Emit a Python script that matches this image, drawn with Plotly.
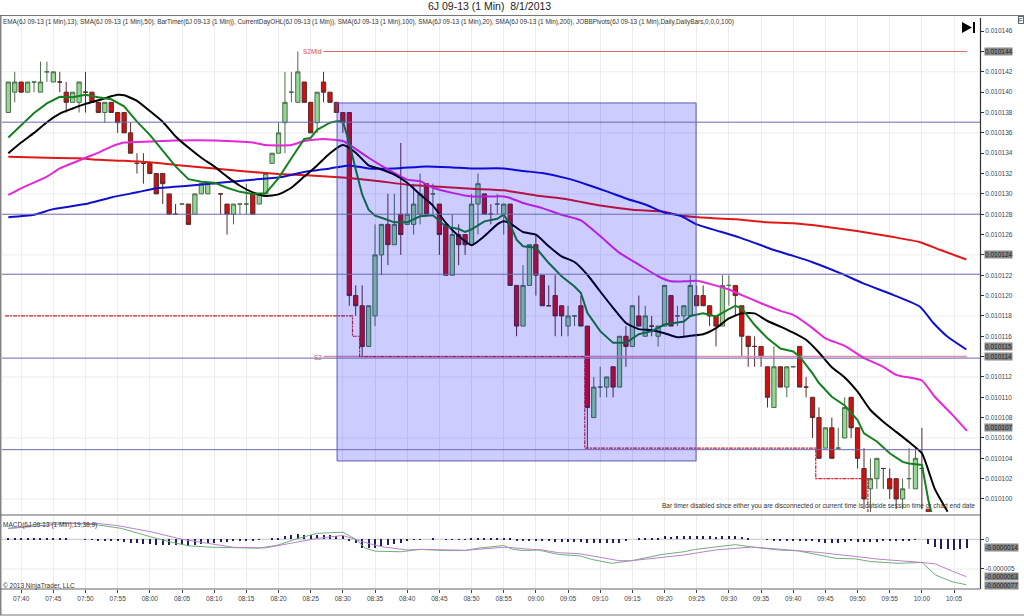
import plotly.graph_objects as go

W, H = 1024, 616

# price is given in ticks: price = 0.010000 + tick * 0.000001
opens  = [138,140,141,140,141,140,142,141,141,140,139,139,140,140,139,138,139,138,138,136,133,133,133,132,132,130,128,129,129,128,130,130,131,130,129,128,129,129,130,129,130,133,134,137,140,139,141,139,137,141,140,139,138,138,120,119,115,118,124,127,125,128,127,127,128,131,130,129,127,122,126,126,125,129,130,128,129,128,129,121,117,121,125,122,119,120,119,117,118,119,117,108,111,111,113,111,116,115,118,116,117,116,117,120,118,118,118,120,120,119,118,117,121,121,119,116,115,115,113,109,113,111,113,115,111,110,108,105,107,105,106,110,107,103,101,102,103,102,102,100,102,101,103,99]
highs  = [141,142,141,141,141,143,143,142,142,141,140,141,142,140,139,139,139,138,138,137,134,134,133,132,132,130,129,129,129,130,131,131,131,130,129,129,129,131,130,130,132,134,137,142,142,144,141,139,140,142,140,139,138,138,121,121,119,127,127,130,130,135,131,131,132,131,131,129,127,128,127,126,130,132,130,129,130,129,129,121,123,125,126,122,121,122,119,119,118,120,117,112,113,112,113,116,117,119,120,119,118,117,121,120,119,119,122,121,121,119,118,122,122,121,119,116,116,115,113,115,113,113,113,115,112,110,109,107,108,107,110,110,107,105,104,104,103,103,102,102,105,105,107,99]
lows   = [138,139,140,140,140,140,141,141,140,138,139,138,138,139,138,137,138,136,136,134,132,131,132,130,129,128,128,129,127,128,130,130,131,128,126,127,128,128,128,129,130,133,134,134,139,139,139,136,136,139,139,138,136,119,118,114,115,117,122,123,125,124,127,126,127,128,128,124,122,122,123,124,125,126,128,127,128,126,121,116,117,121,120,119,119,116,116,116,117,117,105,108,110,110,110,111,113,115,117,116,116,115,117,117,117,116,118,119,119,117,115,117,119,118,114,113,113,113,109,109,111,110,113,111,110,106,104,105,104,105,106,106,103,99,98,101,101,100,99,99,101,101,99,98]
closes = [141,141,140,141,141,141,142,142,141,139,140,141,140,139,138,139,138,137,136,134,133,133,132,130,131,128,128,129,127,130,131,131,131,130,128,129,129,129,128,130,132,134,136,139,140,142,139,136,140,140,139,138,137,120,119,115,119,124,127,125,127,126,128,129,130,128,130,126,122,126,125,125,129,131,128,128,129,129,121,117,121,125,122,119,119,118,118,118,118,117,109,111,111,112,111,116,115,119,117,118,117,117,121,117,118,119,121,119,119,118,117,121,121,120,116,115,115,114,110,113,111,113,113,111,111,108,104,107,104,105,109,107,104,100,102,104,103,101,100,101,102,104,103,98]

black_x = [0,2,4,6,8,10,12,14,16,17,18,20,22,24,26,28,30,32,34,36,38,40,42,44,46,48,50,52,54,56,58,60,62,64,66,68,70,72,74,76,77,78,80,82,84,86,88,90,92,94,96,98,100,102,104,106,108,110,112,114,116,118,120,122,124,126,128,130,132,134,136,138,140,142,144,146]
black_y = [134.0,135.05,136.0,137.05,137.9,138.4,138.85,139.2,139.6,139.75,139.7,139.15,138.15,137.1,135.65,134.55,133.55,132.7,131.7,130.8,130.15,129.8,129.95,130.6,131.7,132.8,134,134.8,134.05,132.8,132.4,131.9,131.1,129.95,128.85,127.15,125.85,124.95,125.85,127,127.3,127.1,126.25,126,124.85,123.85,123.3,122.05,120.4,118.8,117.3,116.7,116.6,116.3,115.9,116.05,116.2,116.8,117.75,118.25,118.25,117.5,116.95,116.35,115.65,114.4,112.95,111.95,110.55,108.75,107.6,106.6,105.6,104.5,101,98.75]

green_x = [0,2,4,6,8,10,12,14,16,18,20,22,24,26,28,30,32,34,36,38,40,42,44,46,47,48,50,51,52,53,54,55,56,57,58,60,62,64,66,68,70,71,72,74,76,77,78,79,80,82,84,86,88,89,90,92,94,96,98,100,102,104,105,106,108,110,112,113,114,116,118,120,122,123,125,126,128,130,132,133,135,137,139,140,142,143,143.5]
green_y = [135.55,136.8,137.95,138.9,139.55,139.5,139.75,139.5,139.3,138.6,137.1,135.8,134.3,132.7,131.45,131.2,131.1,130.6,130.2,130,130.05,131.55,133.5,135.4,135.5,136.3,137,137.15,137.15,135,132.4,129.95,128.45,127.85,127.65,127.2,127.2,127.8,127.9,126.8,126.55,126.25,126.5,127.3,127.55,127.95,127,125.5,124.85,124.7,123.2,121.9,120.9,120.25,118.3,116.5,115.35,115.35,116.2,116.5,117.15,117.4,117.45,118,118.25,117.95,118.6,119,118.75,117.1,115.8,114.8,114.5,114,112.35,111.4,110.05,109.2,107.75,106.45,105.65,104.5,103.65,103.5,103.35,99.9,98.6]

magenta_x = [0,2,6,8,12,14,16,18,22,26,32,38,40,44,46,49,52,53,56,59,62,64,66,69,72,75,77,78,80,83,86,89,92,95,98,101,103,105,107,109,112,114,117,120,122,125,127,130,133,136,138,139,142,144,147,149]
magenta_y = [129.9,130.55,131.7,132.5,133.55,134.05,134.65,135.05,135.15,135.25,135.25,135.05,134.8,134.8,135.2,135.4,135.2,134.85,133.55,132.4,131.4,131.25,130.6,130.1,129.75,129.75,129.75,129.6,129.1,128.6,127.95,127.4,125.85,124.2,123.05,121.9,121.4,121.4,121.45,121.15,120.6,120.05,119.25,118.5,118.1,116.8,115.8,115.05,113.85,113,112.2,112.05,111.65,110.05,108.1,106.7]

blue_x = [0,4,7,12,16,20,23,28,32,38,42,46,50,53,56,60,65,69,72,77,80,83,87,90,93,96,99,102,104.4,107,110.6,113.7,116.8,118.9,122,125.1,129.3,132.9,137.6,141.7,143.8,145.9,148.9]
blue_y = [127.7,127.95,128.5,129,129.65,130.15,130.55,130.8,131.05,131.4,131.6,132.15,132.5,132.8,132.5,132.5,132.7,132.6,132.5,132.5,132.25,132.05,131.5,130.9,130.25,129.55,128.95,128.15,127.87,127,126.3,125.7,125,124.5,123.9,123.25,122.2,121.2,120.05,118.9,117.3,116,114.7]

red_x = [0,6,11,14,18,22,26,32,37,42,47,52,57,62,67,72,77,82,87,92,97,102,104.4,109.6,113.2,117.9,122,126.7,131.9,137.6,141.7,144.8,148.9]
red_y = [133.65,133.55,133.5,133.35,133.25,133.1,132.85,132.5,132.2,131.95,131.8,131.6,131.3,130.9,130.7,130.5,130.35,129.85,129.45,128.85,128.45,128.25,127.87,127.6,127.5,127.2,127.1,126.8,126.35,125.75,125.25,124.5,123.55]

# CurrentDayOHL low (stepped, dashed)
ohl_x = [-0.5,53.5,53.5,54.6,54.6,89.6,89.6,125.5,125.5,133.6,133.6]
ohl_y = [118,118,116,116,114,114,105,105,102,102,98]
pivot_x = [49,149]
s2mid_y = [144,144]
s2_y = [114,114]

# Horizontal levels (in ticks)
level_lines = [137.05,128,122.1,113.85,104.85]
grid_levels = [142,136,130,124,118,112,106,100]
box_x = [51.1,106.9]
box_y = [103.74,138.94]

# MACD panel, in millionths
macd_x = [0,2,5,9,14,17.5,22,25,28,32,39,42,45,48,52,54,55.5,57,61,64,68,71,73,77,78.3,79.9,82.4,85.5,88.9,90.7,93.8,96.9,101.6,105,106.8,109.9,113,115.6,119.7,122.8,125.9,128.6,131.7,134,138.4,142,144.1,146.7,148.9]
macd_y = [1.85,2.0,2.7,2.8,2.4,1.85,.45,-.4,-1.1,-1.35,-1.5,-.95,.15,1.0,1.2,0,-1.5,-2.0,-2.1,-1.7,-1.9,-1.9,-1.5,-1.05,-1.65,-1.9,-1.8,-2.55,-2.8,-3.4,-4.05,-3.6,-2.55,-2.1,-1.7,-1.35,-.9,-1.3,-1.8,-1.95,-2.65,-3.2,-3.3,-3.75,-4.05,-3.9,-6,-7.15,-7.65]
signal_x = [0,4,9,14,17,22,27,30,35,40,43,48,52,55,58,62,64,68,71,77,78.3,80,83,85.5,88.9,91.8,94.9,96.9,101.6,105,109.9,113,115.6,119.7,122.8,125.9,131.7,135.3,142,144.1,146.7,148.9]
signal_y = [1.85,2.15,2.7,2.65,2.3,1.3,0,-.55,-1.35,-1.45,-.85,.15,.65,-.4,-1.25,-1.8,-1.7,-1.8,-1.85,-1.35,-1.4,-1.6,-1.8,-2.25,-2.45,-3,-3.6,-3.6,-3.1,-2.65,-1.8,-1.5,-1.3,-1.65,-1.9,-2.2,-2.9,-3.35,-3.9,-4.15,-5.35,-6.3]
hist = [.25,.25,.3,.3,.3,.3,.3,.3,.2,.05,0,0,-.03,
        -.1,-.15,-.2,-.25,-.35,-.45,-.6,-.7,-.8,-.85,-.9,-.9,-.95,-1,-1,-1.1,-.9,-.8,-.6,-.55,-.5,-.45,-.35,-.3,-.2,-.15,-.1,0,.1,.3,.55,.75,.95,.8,.75,.7,.7,.7,.6,.55,-.2,-.7,-1.4,-1.4,-1.4,-1.1,-.95,-.75,-.55,-.3,-.1,-.05,0,.05,0,-.1,-.1,-.1,-.1,.1,.3,.2,.3,.3,.3,.1,
        -.25,-.25,-.25,-.25,-.3,-.3,-.4,-.4,-.45,-.45,-.45,-.65,-.7,-.7,-.7,-.65,-.55,-.25,0,.05,.15,.2,.25,.5,.45,.5,.5,.6,.6,.5,.5,.45,.5,.5,.5,.35,.15,0,0,-.1,-.15,-.15,-.2,-.15,-.15,-.2,-.25,-.4,-.6,-.65,-.6,-.45,-.35,-.4,-.5,-.5,-.4,-.35,-.3,-.3,-.25,-.2,-.05,0,-.8,-1.3,-1.6,-1.6,-1.8,-1.6,-1.4]

time_ticks = [2+5*k for k in range(30)]
time_labels = ["07:40","07:45","07:50","07:55","08:00","08:05","08:10","08:15","08:20","08:25","08:30","08:35","08:40","08:45","08:50","08:55","09:00","09:05","09:10","09:15","09:20","09:25","09:30","09:35","09:40","09:45","09:50","09:55","10:00","10:05"]
price_ticks = list(range(100,148,2))
price_tags = [144,124,115,114,107]
macd_tags = [-1.4,-6.3,-7.7]

indicators = "EMA(6J 09-13 (1 Min),13), SMA(6J 09-13 (1 Min),50), BarTimer(6J 09-13 (1 Min)), CurrentDayOHL(6J 09-13 (1 Min)), SMA(6J 09-13 (1 Min),100), SMA(6J 09-13 (1 Min),20), SMA(6J 09-13 (1 Min),200), JOBBPivots(6J 09-13 (1 Min),Daily,DailyBars,0,0,0,100)"
FONT = "Liberation Sans"
SMALL = 6.5

def P(t):
    if isinstance(t, (list, tuple)):
        return [0.01 + v*1e-6 for v in t]
    return 0.01 + t*1e-6
def M(t):
    return [v*1e-6 for v in t]
px = lambda v: v/W
py = lambda v: 1 - v/H

fig = go.Figure()
bars = list(range(len(opens)))
fig.add_trace(go.Candlestick(x=bars, open=P(opens), high=P(highs), low=P(lows), close=P(closes),
    increasing=dict(fillcolor="#93d893", line=dict(color="#4c6c4c", width=1)),
    decreasing=dict(fillcolor="#d01010", line=dict(color="#5a2a2a", width=1)),
    whiskerwidth=0, showlegend=False, xaxis="x", yaxis="y"))
fig.add_trace(go.Scatter(x=pivot_x, y=P(s2mid_y), mode="lines", line=dict(color="#d86a6a", width=1), showlegend=False))
fig.add_trace(go.Scatter(x=pivot_x, y=P(s2_y), mode="lines", line=dict(color="#e58ab0", width=1.5), showlegend=False))
fig.add_trace(go.Scatter(x=ohl_x, y=P(ohl_y), mode="lines", line=dict(color="#d02030", width=1.2, dash="4px,1px,2px,1px"), showlegend=False))
for xs, ys, c, w, sm in [(red_x, red_y, "#e01818", 2, True), (blue_x, blue_y, "#1010cc", 2, True),
                     (magenta_x, magenta_y, "#e428d8", 2, True), (black_x, black_y, "#000000", 2, True),
                     (green_x, green_y, "#15801f", 2, False)]:
    line = dict(color=c, width=w)
    if sm:
        line.update(shape="spline", smoothing=0.5)
    fig.add_trace(go.Scatter(x=xs, y=P(ys), mode="lines", line=line, showlegend=False))

fig.add_trace(go.Bar(x=list(range(len(hist))), y=M(hist), width=0.17, marker=dict(color="#20205e", line=dict(width=0)), showlegend=False, xaxis="x2", yaxis="y2"))
fig.add_trace(go.Scatter(x=macd_x, y=M(macd_y), mode="lines", line=dict(color="#6fae76", width=1), showlegend=False, xaxis="x2", yaxis="y2"))
fig.add_trace(go.Scatter(x=signal_x, y=M(signal_y), mode="lines", line=dict(color="#b882cc", width=1), showlegend=False, xaxis="x2", yaxis="y2"))

# price tag arrows
fig.add_trace(go.Scatter(x=[151.45]*len(price_tags), y=P(price_tags), mode="markers", cliponaxis=False,
    marker=dict(symbol="triangle-left", size=7, color="#777777"), showlegend=False))
fig.add_trace(go.Scatter(x=[151.45]*len(macd_tags), y=M(macd_tags), mode="markers", cliponaxis=False,
    marker=dict(symbol="triangle-left", size=7, color="#777777"), showlegend=False, xaxis="x2", yaxis="y2"))

shapes = []
for g in grid_levels:
    shapes.append(dict(type="line", xref="x domain", yref="y", x0=0, x1=1, y0=P(g), y1=P(g), line=dict(color="#ececec", width=1), layer="below"))
shapes.append(dict(type="rect", xref="x", yref="y", x0=box_x[0], x1=box_x[1], y0=P(box_y[0]), y1=P(box_y[1]),
    fillcolor="rgba(0,0,255,0.2)", line=dict(color="#5a5ab4", width=1), layer="above"))
for l in level_lines:
    shapes.append(dict(type="line", xref="x domain", yref="y", x0=0, x1=1, y0=P(l), y1=P(l), line=dict(color="#6a6ab0", width=1), layer="above"))
shapes.append(dict(type="line", xref="x2 domain", yref="y2", x0=0, x1=1, y0=0, y1=0, line=dict(color="#c4c4c8", width=1), layer="below"))
shapes.append(dict(type="line", xref="x2 domain", yref="y2", x0=0, x1=1, y0=-5e-6, y1=-5e-6, line=dict(color="#ececec", width=1), layer="below"))
frame = [(0,15.5,1024,15.5,"#777777"),(0.8,15,0.8,615,"#666666"),(0,615,1024,615,"#777777"),
         (0,515,980,515,"#666666"),(0,589,980,589,"#666666"),(980.5,18,980.5,589,"#333333")]
for x0,y0,x1,y1,c in frame:
    shapes.append(dict(type="line", xref="paper", yref="paper", x0=px(x0), x1=px(x1), y0=py(y0), y1=py(y1), line=dict(color=c, width=1.2), layer="above"))
# skip-to-end button
shapes.append(dict(type="path", xref="paper", yref="paper", fillcolor="black", line=dict(width=0), layer="above",
    path=f"M {px(962)} {py(22)} L {px(972)} {py(27.5)} L {px(962)} {py(33)} Z"))
shapes.append(dict(type="rect", xref="paper", yref="paper", fillcolor="black", line=dict(width=0), layer="above",
    x0=px(973), x1=px(975), y0=py(22), y1=py(33)))

def note(x, y, text, size=SMALL, anchor="left", color="#333333", **kw):
    return dict(xref="paper", yref="paper", x=px(x), y=py(y), text=text, showarrow=False, xanchor=anchor, yanchor="middle",
                font=dict(family=FONT, size=size, color=color), borderpad=0, **kw)

annotations = [
    note(489, 6, "6J 09-13 (1 Min)  8/1/2013", size=10.5, anchor="center", color="#222222"),
    note(2, 22.5, indicators, size=6.4),
    note(323, 52, "S2Mid", anchor="right", color="#d85050"),
    note(323, 357, "S2", anchor="right", color="#b06080"),
    note(976, 506, "Bar timer disabled since either you are disconnected or current time is outside session time or chart end date", anchor="right"),
    note(2, 525, "MACD(6J 09-13 (1 Min),19,38,9)"),
    note(2, 585.5, "© 2013 NinjaTrader, LLC"),
    note(1020.5, 20.5, "F", size=6, anchor="center", bordercolor="#666666", borderwidth=1),
]
for t in price_tags:
    annotations.append(dict(xref="paper", yref="y", x=px(984), y=P(t), text=f"{P(t):.6f}", showarrow=False, xanchor="left", yanchor="middle",
        bgcolor="#8a8a8a", font=dict(family=FONT, size=SMALL, color="#222222"), borderpad=0))
for t in macd_tags:
    annotations.append(dict(xref="paper", yref="y2", x=px(984), y=t*1e-6, text=f"{t*1e-6:.7f}", showarrow=False, xanchor="left", yanchor="middle",
        bgcolor="#8a8a8a", font=dict(family=FONT, size=SMALL, color="#222222"), borderpad=0))

xrange = [-0.98, 151.03]
tickfont = dict(family=FONT, size=SMALL, color="#444444")
fig.update_layout(
    width=W, height=H, autosize=False, margin=dict(l=0,r=0,t=0,b=0), paper_bgcolor="white", plot_bgcolor="white",
    boxgap=0.05, showlegend=False, bargap=0, shapes=shapes, annotations=annotations,
    xaxis=dict(domain=[px(2),px(980)], range=xrange, showticklabels=False, tickvals=time_ticks, showgrid=True, gridcolor="#ececec", gridwidth=1,
               rangeslider=dict(visible=False), zeroline=False, showline=False, ticks=""),
    yaxis=dict(domain=[py(512),py(16)], range=[P(98.72),P(147.49)], side="right", anchor="x", tickvals=P(price_ticks), ticktext=[f"{P(v):.6f}" for v in price_ticks],
               ticks="outside", ticklen=3, tickcolor="#333333", showgrid=False, zeroline=False, showline=False, tickfont=tickfont, automargin=False),
    xaxis2=dict(domain=[px(2),px(980)], range=xrange, anchor="y2", tickvals=time_ticks, ticktext=time_labels, showgrid=True, gridcolor="#ececec", gridwidth=1,
                zeroline=False, showline=False, ticks="outside", ticklen=3, tickcolor="#444444", tickfont=tickfont, automargin=False),
    yaxis2=dict(domain=[py(589),py(515)], range=[4.09e-6,-8.37e-6][::-1], side="right", anchor="x2", tickvals=[0,-5e-6], ticktext=["0","-0.000005"],
                ticks="outside", ticklen=3, tickcolor="#333333", showgrid=False, zeroline=False, showline=False, tickfont=tickfont, automargin=False),
)
fig.write_html("out.html", config=dict(displayModeBar=False),
               post_script="document.body.style.margin='0';")
